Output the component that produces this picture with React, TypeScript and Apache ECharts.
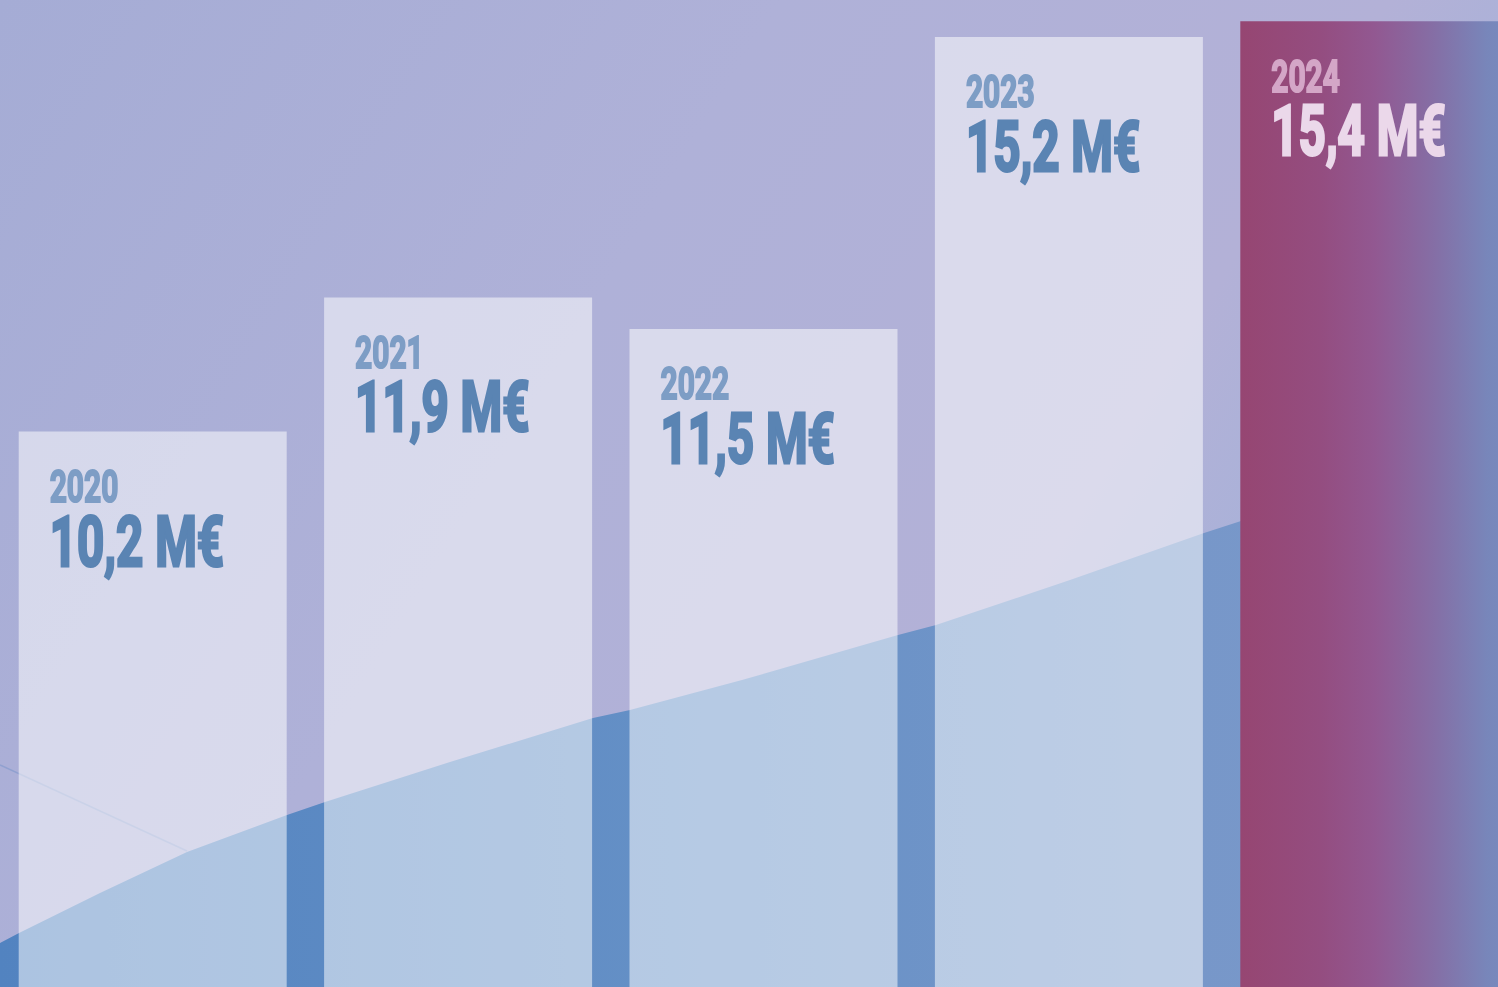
import React, { useEffect, useRef } from "react";
import * as echarts from "echarts";

const years = ["2020", "2021", "2022", "2023", "2024"];
const revenue = [10.2, 11.9, 11.5, 15.2, 15.4];
const unit = "M€";

const BAR_W = 268;

export default function App() {
  const ref = useRef<HTMLDivElement>(null);

  useEffect(() => {
    if (!ref.current) return;
    const chart = echarts.init(ref.current, null, { renderer: "svg" });
    const last = years.length - 1;

    const fmt = (v: number) => v.toFixed(1).replace(".", ",") + " " + unit;

    const font = "Roboto, 'DejaVu Sans', sans-serif";

    const option: any = {
      animation: false,
      grid: {
        left: 0,
        top: 0,
        width: 1527,
        height: 987,
        outerBoundsMode: "none",
        containLabel: false,
      },
      xAxis: {
        type: "category",
        data: years,
        show: false,
        boundaryGap: true,
      },
      yAxis: {
        type: "value",
        min: 3.16,
        max: 15.67,
        show: false,
        splitLine: { show: false },
      },
      graphic: {
        elements: [
          {
            type: "rect",
            z: 0,
            silent: true,
            shape: { x: 0, y: 0, width: 1498, height: 987 },
            style: {
              fill: new echarts.graphic.LinearGradient(0, 0, 1, 0.4, [
                { offset: 0, color: "#a5acd5" },
                { offset: 0.45, color: "#afb1d8" },
                { offset: 0.8, color: "#b3b1d7" },
                { offset: 1, color: "#a2b2da" },
              ]),
            },
          },
          {
            type: "polygon",
            z: 1,
            silent: true,
            shape: {
              points: [
                [0, 943],
                [19, 933],
                [100, 893],
                [187, 852],
                [287, 815],
                [325, 802],
                [450, 762],
                [593, 718],
                [630, 710],
                [742, 680],
                [898, 635],
                [936, 625],
                [1070, 580],
                [1204, 533],
                [1241, 521],
                [1498, 440],
                [1498, 987],
                [0, 987],
              ],
            },
            style: {
              fill: new echarts.graphic.LinearGradient(0, 0, 1, 0, [
                { offset: 0, color: "#5283c0" },
                { offset: 0.45, color: "#6590c6" },
                { offset: 0.8, color: "#7797c9" },
                { offset: 1, color: "#7c9acb" },
              ]),
            },
          },
          {
            type: "line",
            z: 1,
            silent: true,
            shape: { x1: 0, y1: 765, x2: 187, y2: 851 },
            style: { stroke: "rgba(95,135,195,0.35)", lineWidth: 1.5 },
          },
        ],
      },
      series: [
        {
          type: "bar",
          z: 5,
          barWidth: BAR_W,
          silent: true,
          data: revenue.map((v, i) => ({
            value: v,
            itemStyle:
              i === last
                ? {
                    color: new echarts.graphic.LinearGradient(0, 0, 1, 0, [
                      { offset: 0, color: "#964672" },
                      { offset: 0.3, color: "#944d80" },
                      { offset: 0.5, color: "#925891" },
                      { offset: 0.72, color: "#856ea5" },
                      { offset: 0.92, color: "#7886ba" },
                      { offset: 1, color: "#768abe" },
                    ]),
                  }
                : { color: "rgba(255,255,255,0.52)" },
          })),
        },
        {
          type: "custom",
          z: 10,
          silent: true,
          encode: { x: 0, y: 1 },
          data: revenue.map((v, i) => [i, v]),
          renderItem: (params: any, api: any) => {
            const i = params.dataIndex;
            const pt = api.coord([api.value(0), api.value(1)]);
            const left = pt[0] - BAR_W / 2 + 31;
            const top = pt[1];
            const isLast = i === last;
            const yearColor = isLast ? "#d4a6c7" : "#7d9dc5";
            const valColor = isLast ? "#ebd8ea" : "#5a84b3";
            return {
              type: "group",
              children: [
                {
                  type: "text",
                  x: left,
                  y: top + 55,
                  scaleX: 0.68,
                  style: {
                    text: years[i],
                    fontFamily: font,
                    fontWeight: 700,
                    fontSize: 44,
                    fill: yearColor,
                    stroke: yearColor,
                    lineWidth: 2,
                    align: "left",
                    verticalAlign: "middle",
                  },
                },
                {
                  type: "text",
                  x: left,
                  y: top + 110,
                  scaleX: 0.68,
                  style: {
                    text: fmt(revenue[i]),
                    fontFamily: font,
                    fontWeight: 700,
                    fontSize: 70,
                    fill: valColor,
                    stroke: valColor,
                    lineWidth: 3,
                    align: "left",
                    verticalAlign: "middle",
                  },
                },
              ],
            };
          },
        },
      ],
    };

    chart.setOption(option);
    return () => chart.dispose();
  }, []);

  return (
    <div
      ref={ref}
      style={{ position: "fixed", left: 0, top: 0, width: 1498, height: 987 }}
    />
  );
}
